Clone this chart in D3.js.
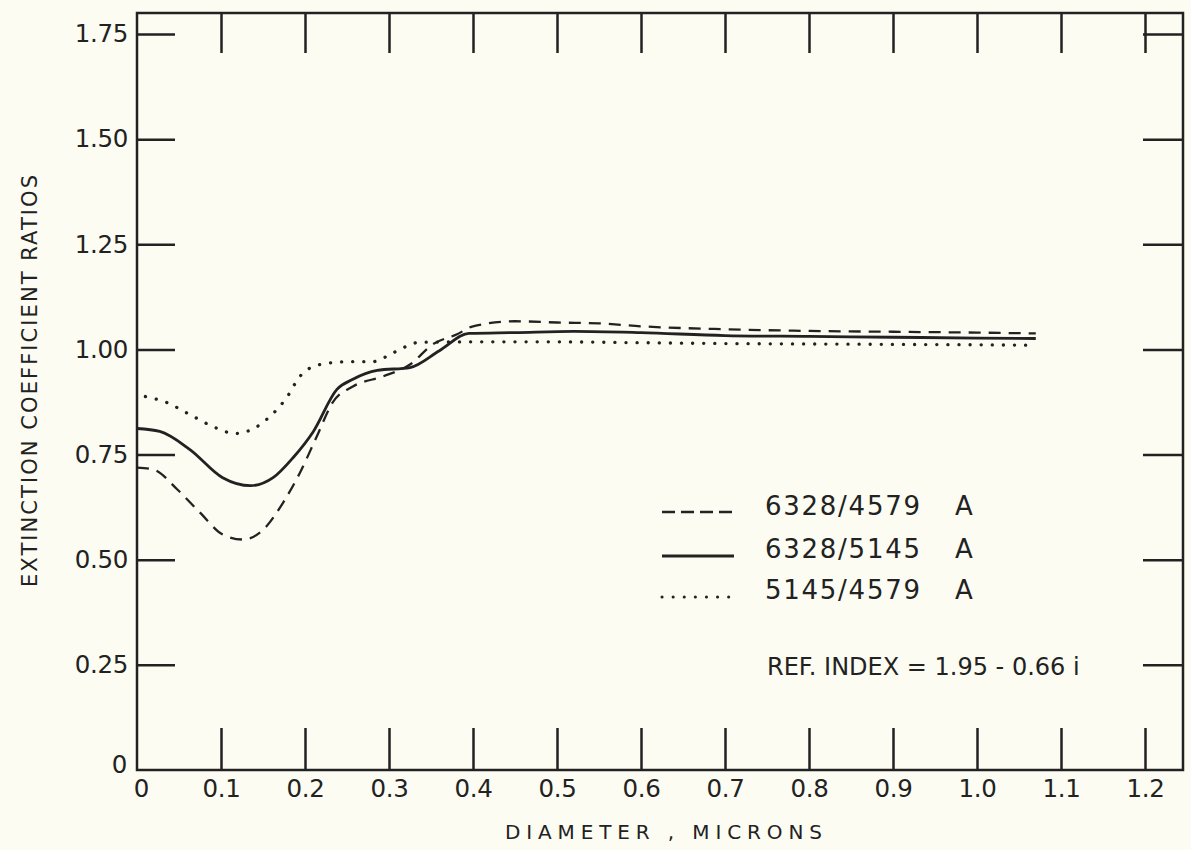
<!DOCTYPE html>
<html>
<head>
<meta charset="utf-8">
<script src="https://cdn.jsdelivr.net/npm/d3@7"></script>
<style>
  html, body { margin: 0; padding: 0; background: #fcfcf3; }
  svg { display: block; }
  text { font-family: "DejaVu Sans", sans-serif; fill: #222; }
</style>
</head>
<body>
<svg id="chart" width="1191" height="850"></svg>
<script>
// ---- data ----
const solidD = [0, 0.027, 0.063, 0.102, 0.135, 0.162, 0.186, 0.21, 0.238, 0.257, 0.286, 0.325, 0.36, 0.395, 0.45, 0.52, 0.6, 0.7, 0.8, 0.9, 1.0, 1.07];
const solidV = [0.812, 0.805, 0.762, 0.695, 0.676, 0.695, 0.743, 0.805, 0.905, 0.929, 0.950, 0.957, 0.997, 1.038, 1.040, 1.043, 1.040, 1.033, 1.031, 1.029, 1.027, 1.026];

const dashD = [0, 0.02, 0.048, 0.075, 0.102, 0.126, 0.15, 0.174, 0.194, 0.214, 0.233, 0.257, 0.293, 0.325, 0.352, 0.381, 0.4, 0.45, 0.5, 0.55, 0.6, 0.7, 0.8, 0.9, 1.0, 1.07];
const dashV = [0.719, 0.714, 0.667, 0.612, 0.56, 0.548, 0.571, 0.636, 0.707, 0.793, 0.874, 0.912, 0.936, 0.964, 1.012, 1.036, 1.055, 1.067, 1.064, 1.062, 1.055, 1.048, 1.044, 1.042, 1.040, 1.038];

const dotD = [0.01, 0.035, 0.063, 0.09, 0.117, 0.137, 0.158, 0.178, 0.194, 0.218, 0.254, 0.281, 0.305, 0.337, 0.4, 0.5, 0.6, 0.7, 0.8, 0.9, 1.0, 1.07];
const dotV = [0.888, 0.874, 0.845, 0.817, 0.80, 0.81, 0.84, 0.885, 0.936, 0.964, 0.971, 0.971, 0.992, 1.017, 1.018, 1.018, 1.016, 1.014, 1.013, 1.012, 1.011, 1.01];

const xTicks = [0, 0.1, 0.2, 0.3, 0.4, 0.5, 0.6, 0.7, 0.8, 0.9, 1.0, 1.1, 1.2];
const xTickLabels = ["0", "0.1", "0.2", "0.3", "0.4", "0.5", "0.6", "0.7", "0.8", "0.9", "1.0", "1.1", "1.2"];
const yTicks = [0, 0.25, 0.5, 0.75, 1.0, 1.25, 1.5, 1.75];
const yTickLabels = ["0", "0.25", "0.50", "0.75", "1.00", "1.25", "1.50", "1.75"];

const seriesNames = ["6328/4579", "6328/5145", "5145/4579"];
const unitLabel = "A";
const noteText = "REF. INDEX = 1.95 - 0.66 i";
const xTitle = "DIAMETER , MICRONS";
const yTitle = "EXTINCTION COEFFICIENT RATIOS";

// ---- layout ----
const svg = d3.select("#chart");
const fL = 137, fR = 1183, fT = 13, fB = 770;
const x = d3.scaleLinear().domain([0, 1.2]).range([137, 1145]);
const y = d3.scaleLinear().domain([0, 1.75]).range([770, 34]);
const ink = "#222";

// frame
svg.append("rect")
  .attr("x", fL).attr("y", fT)
  .attr("width", fR - fL).attr("height", fB - fT)
  .attr("fill", "none").attr("stroke", ink).attr("stroke-width", 2.5);

// axes
const fmtX = d => xTickLabels[xTicks.indexOf(d)];
const fmtY = d => yTickLabels[yTicks.indexOf(d)];

const gB = svg.append("g").attr("transform", `translate(0,${fB})`)
  .call(d3.axisBottom(x).tickValues(xTicks).tickSize(-42).tickPadding(10).tickFormat(fmtX));
const gL = svg.append("g").attr("transform", `translate(${fL},0)`)
  .call(d3.axisLeft(y).tickValues(yTicks).tickSize(-38).tickPadding(9).tickFormat(fmtY));
const gT = svg.append("g").attr("transform", `translate(0,${fT})`)
  .call(d3.axisTop(x).tickValues(xTicks.filter(v => v > 0)).tickSize(-40).tickFormat(""));
const gR = svg.append("g").attr("transform", `translate(${fR},0)`)
  .call(d3.axisRight(y).tickValues(yTicks.filter(v => v > 0)).tickSize(-40).tickFormat(""));

[gB, gL, gT, gR].forEach(g => {
  g.select(".domain").remove();
  g.selectAll(".tick line").attr("stroke", ink).attr("stroke-width", 2.5);
  g.selectAll(".tick text").attr("font-size", 24.5).attr("fill", ink)
    .attr("font-family", "DejaVu Sans, sans-serif").attr("letter-spacing", -0.3);
});
// zero ticks hidden (they lie on the frame)
gB.selectAll(".tick").filter(d => d === 0).select("line").remove();
gL.selectAll(".tick").filter(d => d === 0).select("line").remove();
gL.selectAll(".tick").filter(d => d === 0).select("text").attr("dy", "0.1em").attr("x", -10);
gB.selectAll(".tick").filter(d => d === 0).select("text").attr("x", 4);

// lines
const line = d3.line().x(d => x(d[0])).y(d => y(d[1])).curve(d3.curveMonotoneX);
const series = [
  { d: dashD, v: dashV, dash: "12 8", w: 2.3, cap: "butt" },
  { d: solidD, v: solidV, dash: null, w: 2.8, cap: "butt" },
  { d: dotD, v: dotV, dash: "0.1 11", w: 3.3, cap: "round" }
];
series.forEach(s => {
  svg.append("path")
    .datum(d3.zip(s.d, s.v))
    .attr("d", line)
    .attr("fill", "none")
    .attr("stroke", ink)
    .attr("stroke-width", s.w)
    .attr("stroke-linecap", s.cap)
    .attr("stroke-dasharray", s.dash);
});

// legend
const legY = [512, 556, 597];
const legText = [515, 558, 599];
const legStyles = [
  { dash: "13 6", w: 2.3, cap: "butt" },
  { dash: null, w: 2.8, cap: "butt" },
  { dash: "0.1 11", w: 3, cap: "round" }
];
seriesNames.forEach((name, i) => {
  svg.append("line")
    .attr("x1", 662).attr("x2", 734).attr("y1", legY[i]).attr("y2", legY[i])
    .attr("stroke", ink).attr("stroke-width", legStyles[i].w)
    .attr("stroke-linecap", legStyles[i].cap)
    .attr("stroke-dasharray", legStyles[i].dash);
  svg.append("text").attr("x", 765).attr("y", legText[i])
    .attr("font-size", 26).attr("textLength", 155).attr("lengthAdjust", "spacing")
    .text(name);
  svg.append("text").attr("x", 955).attr("y", legText[i])
    .attr("font-size", 26).text(unitLabel);
});

svg.append("text").attr("x", 767).attr("y", 675)
  .attr("font-size", 24).text(noteText);

// axis titles
svg.append("text").attr("x", 505).attr("y", 839)
  .attr("font-size", 20).attr("textLength", 317).attr("lengthAdjust", "spacing")
  .text(xTitle);
svg.append("text")
  .attr("transform", "translate(37,587) rotate(-90)")
  .attr("font-size", 21).attr("textLength", 412).attr("lengthAdjust", "spacing")
  .text(yTitle);
</script>
</body>
</html>
